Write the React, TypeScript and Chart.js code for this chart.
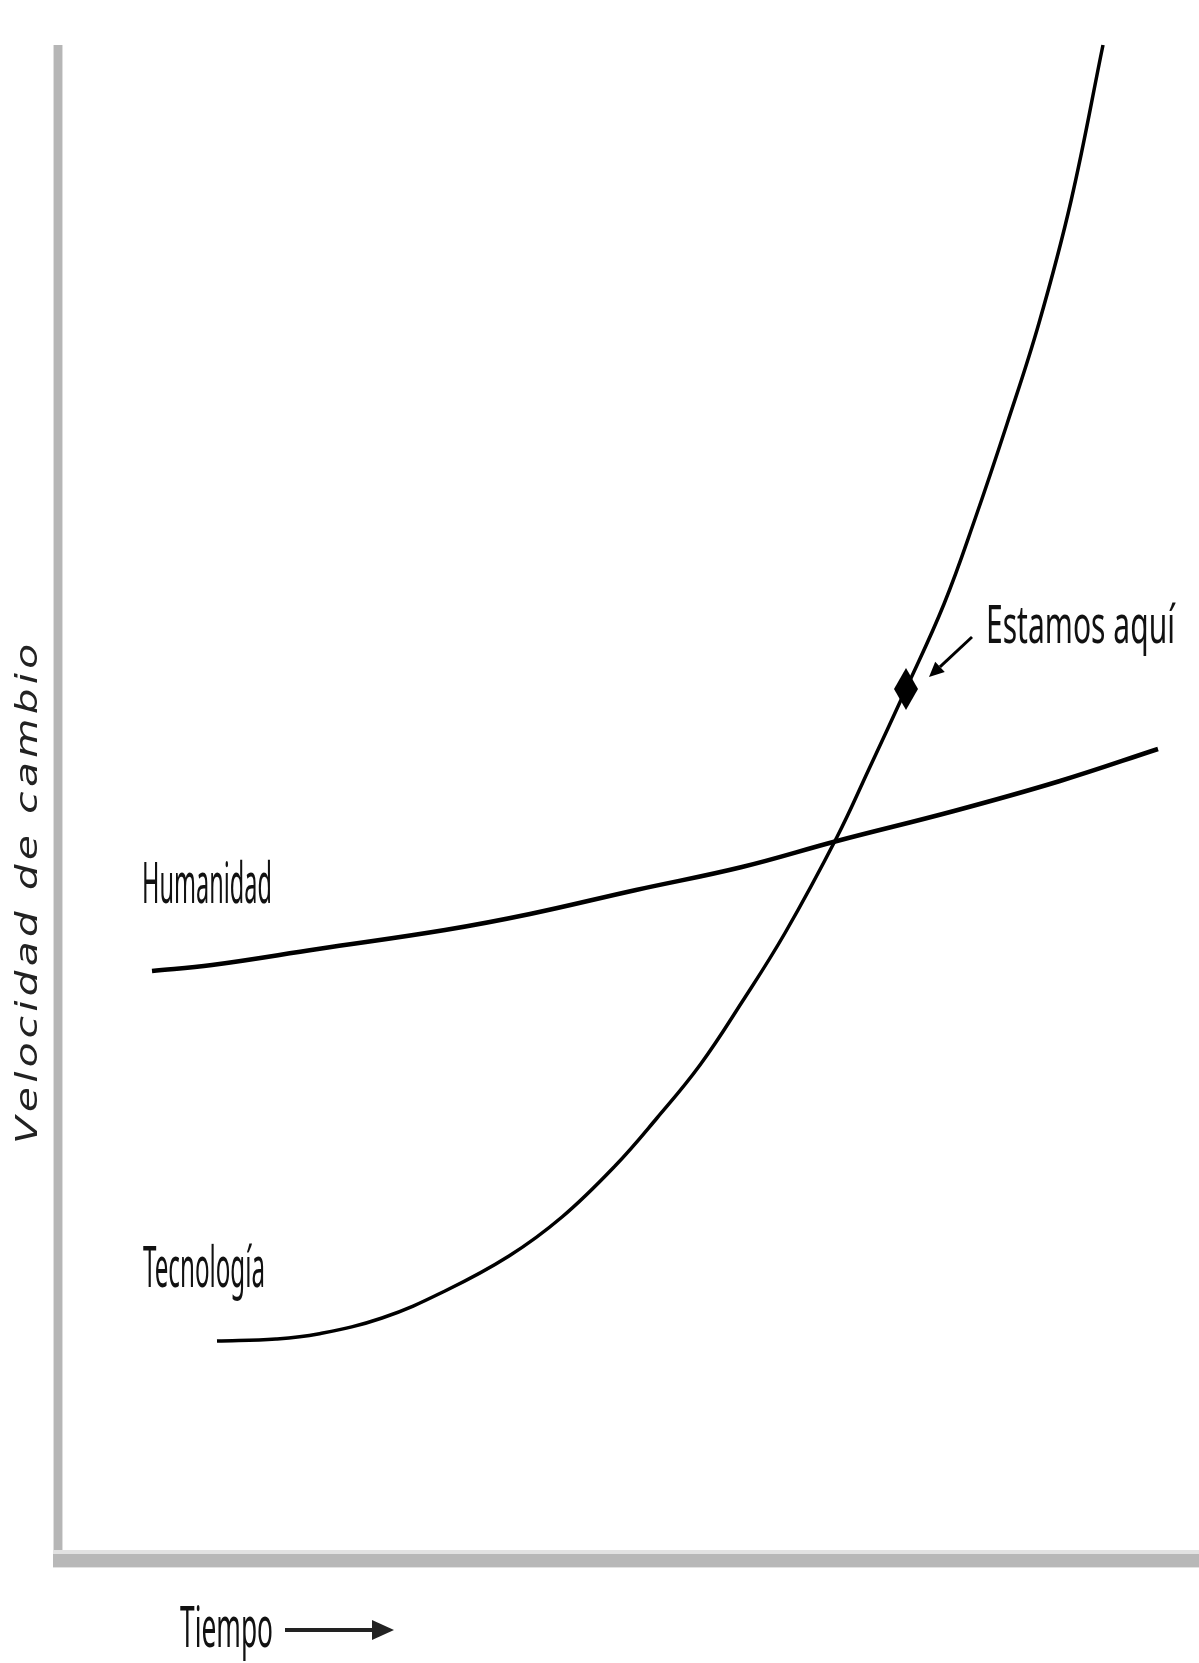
import React, { useEffect, useRef } from "react";
import { Chart, registerables } from "chart.js";

Chart.register(...registerables);

// ---- Data (arbitrary units: time →, rate of change ↑) ----
const tiempoTecnologia = [15.9, 21.8, 26.0, 32.4, 38.7, 45.1, 50.4, 55.7, 59.9, 64.2, 68.4, 72.7, 77.9, 81.1, 84.8, 88.6, 91.7, 94.9, 98.1, 101.3, 104.5];
const velocidadTecnologia = [21.9, 22.1, 22.6, 24.2, 26.9, 30.4, 34.3, 39.4, 44.2, 49.5, 55.8, 62.7, 72.3, 79.1, 87.1, 95.6, 104.1, 113.6, 123.7, 135.9, 151.5];
const tiempoHumanidad = [9.4, 15.4, 26.0, 38.7, 47.2, 57.8, 68.4, 77.9, 89.6, 100.2, 110.0];
const velocidadHumanidad = [58.9, 59.5, 61.1, 63.0, 64.6, 67.0, 69.3, 71.9, 74.9, 77.9, 81.1];
const estamosAquiTiempo = [84.8];
const estamosAquiVelocidad = [87.1];

const seriesLabels = ["Tecnología", "Humanidad", "Estamos aquí"];
const xAxisTitle = "Tiempo";
const yAxisTitle = "Velocidad de cambio";
const xRange = [0, 114.1];
const yRange = [0, 151.5];

function toPoints(xs: number[], ys: number[]) {
  return xs.map((x, i) => ({ x, y: ys[i] }));
}

function makeDiamond(): HTMLCanvasElement {
  const c = document.createElement("canvas");
  c.width = 24;
  c.height = 42;
  const g = c.getContext("2d")!;
  g.fillStyle = "#000";
  g.beginPath();
  g.moveTo(12, 0);
  g.lineTo(24, 21);
  g.lineTo(12, 42);
  g.lineTo(0, 21);
  g.closePath();
  g.fill();
  return c;
}

function condensedText(
  ctx: CanvasRenderingContext2D,
  text: string,
  left: number,
  baseline: number,
  capHeight: number,
  width: number
) {
  const size = capHeight / 0.714;
  ctx.save();
  ctx.font = `${size}px "Noto Sans"`;
  ctx.textBaseline = "alphabetic";
  ctx.textAlign = "left";
  ctx.fillStyle = "#111";
  const w = ctx.measureText(text).width;
  ctx.translate(left, baseline);
  ctx.scale(width / w, 1);
  ctx.fillText(text, 0, 0);
  ctx.restore();
}

function arrow(
  ctx: CanvasRenderingContext2D,
  x1: number,
  y1: number,
  x2: number,
  y2: number,
  lw: number,
  headLen: number,
  headHalf: number,
  color: string
) {
  const ang = Math.atan2(y2 - y1, x2 - x1);
  const bx = x2 - Math.cos(ang) * headLen;
  const by = y2 - Math.sin(ang) * headLen;
  ctx.save();
  ctx.strokeStyle = color;
  ctx.fillStyle = color;
  ctx.lineWidth = lw;
  ctx.beginPath();
  ctx.moveTo(x1, y1);
  ctx.lineTo(bx, by);
  ctx.stroke();
  ctx.beginPath();
  ctx.moveTo(x2, y2);
  ctx.lineTo(bx + Math.sin(ang) * headHalf, by - Math.cos(ang) * headHalf);
  ctx.lineTo(bx - Math.sin(ang) * headHalf, by + Math.cos(ang) * headHalf);
  ctx.closePath();
  ctx.fill();
  ctx.restore();
}

const decorPlugin = {
  id: "decor",
  beforeDatasetsDraw(chart: any) {
    const ctx: CanvasRenderingContext2D = chart.ctx;
    const { left, top, right, bottom } = chart.chartArea;
    ctx.save();
    // y axis band
    ctx.fillStyle = "#dedede";
    ctx.fillRect(left - 5, top, 10, bottom + 8 - top);
    ctx.fillStyle = "#b6b6b6";
    ctx.fillRect(left - 4, top, 8, bottom + 7 - top);
    // x axis band
    ctx.fillStyle = "#e2e2e2";
    ctx.fillRect(left - 5, bottom - 10, right - left + 5, 18);
    ctx.fillStyle = "#b8b8b8";
    ctx.fillRect(left - 5, bottom - 6, right - left + 5, 13);
    ctx.restore();
  },
  afterDatasetsDraw(chart: any) {
    const ctx: CanvasRenderingContext2D = chart.ctx;
    const { left, bottom } = chart.chartArea;

    const tecStart = chart.getDatasetMeta(0).data[0];
    const humStart = chart.getDatasetMeta(1).data[0];
    const here = chart.getDatasetMeta(2).data[0];

    condensedText(ctx, seriesLabels[1], humStart.x - 10, humStart.y - 68, 40, 130);
    condensedText(ctx, seriesLabels[0], tecStart.x - 74, tecStart.y - 54, 40, 122);
    condensedText(ctx, seriesLabels[2], here.x + 80, here.y - 46, 38, 189);

    // "Estamos aquí" pointer
    arrow(ctx, here.x + 66, here.y - 52, here.x + 23, here.y - 12, 3, 15, 7, "#000");

    // x-axis title with arrow
    condensedText(ctx, xAxisTitle, left + 122, bottom + 87, 40, 93);
    arrow(ctx, left + 227, bottom + 70, left + 336, bottom + 70, 4, 22, 10, "#222");

    // y-axis title, oblique, stretched along its length
    ctx.save();
    ctx.font = 'italic 30px "DejaVu Sans"';
    ctx.fillStyle = "#222";
    ctx.textBaseline = "alphabetic";
    ctx.translate(37, 1144);
    ctx.rotate(-Math.PI / 2);
    const stretch = 1.35;
    ctx.scale(stretch, 1);
    const chars = Array.from(yAxisTitle);
    const widths = chars.map((c) => ctx.measureText(c).width);
    const total = widths.reduce((a, b) => a + b, 0);
    const spacing = (500 / stretch - total) / (chars.length - 1);
    let px = 0;
    chars.forEach((c, i) => {
      ctx.fillText(c, px, 0);
      px += widths[i] + spacing;
    });
    ctx.restore();
  },
};

export default function App() {
  const canvasRef = useRef<HTMLCanvasElement | null>(null);

  useEffect(() => {
    const canvas = canvasRef.current;
    if (!canvas) return;
    const diamond = makeDiamond();
    const chart = new Chart(canvas, {
      type: "line",
      data: {
        datasets: [
          {
            label: seriesLabels[0],
            data: toPoints(tiempoTecnologia, velocidadTecnologia),
            borderColor: "#000",
            borderWidth: 3.5,
            pointRadius: 0,
            tension: 0.4,
            fill: false,
            clip: false,
          },
          {
            label: seriesLabels[1],
            data: toPoints(tiempoHumanidad, velocidadHumanidad),
            borderColor: "#000",
            borderWidth: 4.5,
            pointRadius: 0,
            tension: 0.4,
            fill: false,
            clip: false,
          },
          {
            label: seriesLabels[2],
            data: toPoints(estamosAquiTiempo, estamosAquiVelocidad),
            showLine: false,
            pointStyle: diamond as any,
            pointRadius: 12,
            borderColor: "#000",
            backgroundColor: "#000",
            clip: false,
          },
        ],
      } as any,
      options: {
        animation: false,
        responsive: false,
        devicePixelRatio: 1,
        events: [],
        layout: { autoPadding: false, padding: { left: 58, top: 45, right: 0, bottom: 103 } },
        plugins: {
          legend: { display: false },
          tooltip: { enabled: false },
          title: { display: false },
        },
        scales: {
          x: { type: "linear", min: xRange[0], max: xRange[1], display: false },
          y: { type: "linear", min: yRange[0], max: yRange[1], display: false },
        },
      } as any,
      plugins: [decorPlugin as any],
    });
    return () => chart.destroy();
  }, []);

  return (
    <div
      style={{
        position: "absolute",
        left: 0,
        top: 0,
        width: 1199,
        height: 1663,
        background: "#fff",
      }}
    >
      <canvas ref={canvasRef} width={1199} height={1663} style={{ display: "block" }} />
    </div>
  );
}
